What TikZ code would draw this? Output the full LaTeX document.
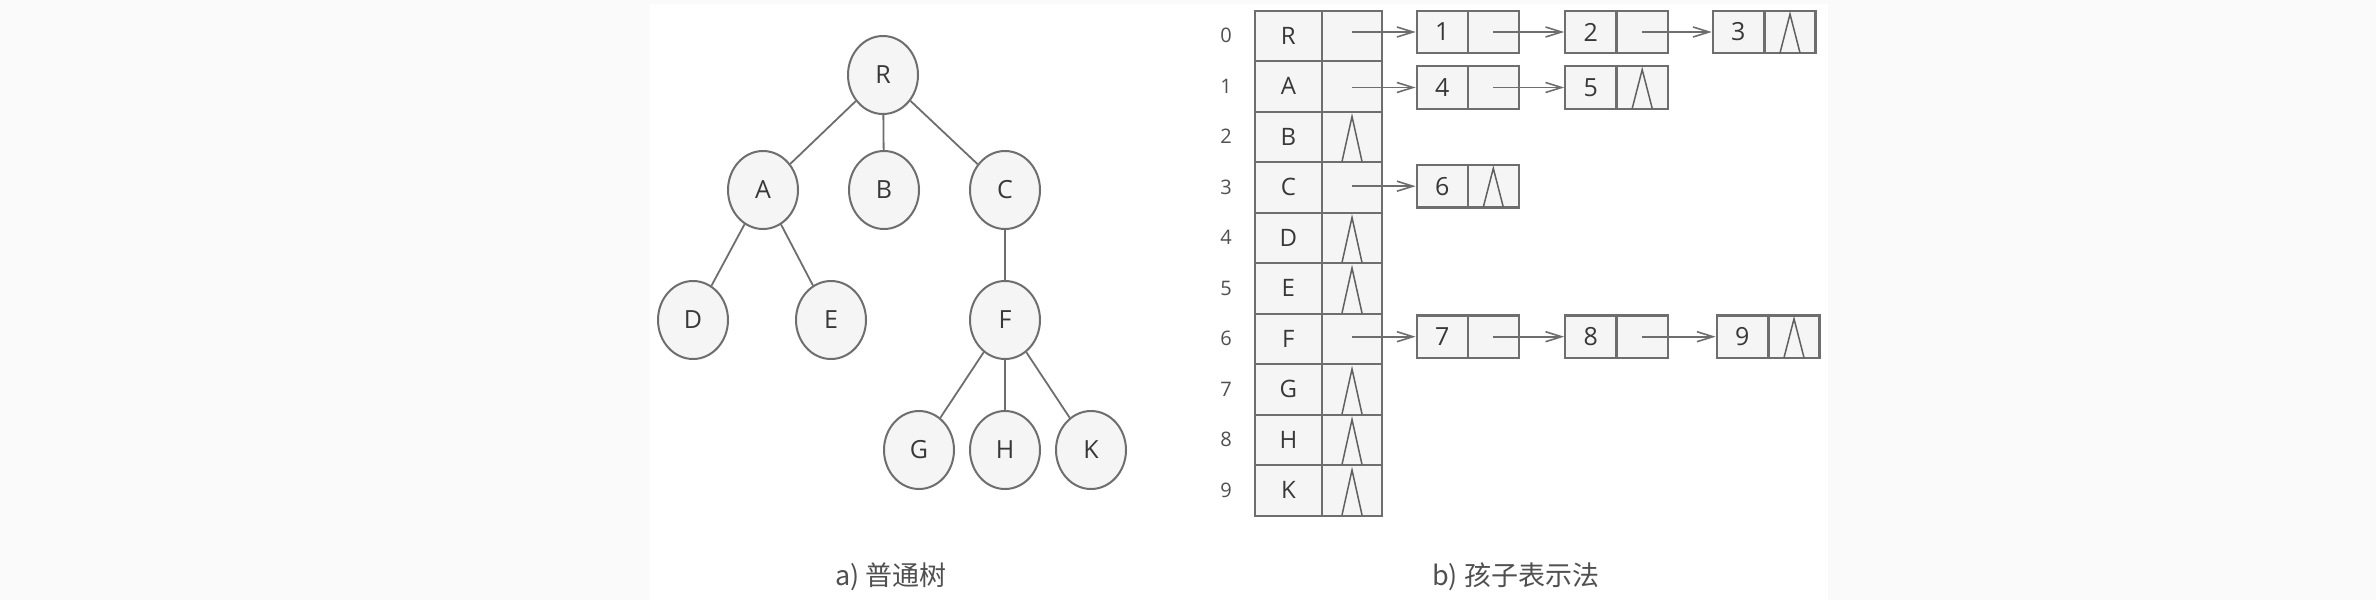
\documentclass[tikz,border=0pt]{standalone}
\usepackage{fontspec}
\setmainfont{Open Sans}
\newfontfamily\cjk{Noto Sans CJK SC}
\usetikzlibrary{shapes.geometric,arrows.meta}
\definecolor{bgout}{HTML}{FAFAFA}
\definecolor{boxfill}{HTML}{F5F5F5}
\definecolor{linec}{HTML}{6E6E6E}
\definecolor{txt}{HTML}{383838}
\definecolor{idxc}{HTML}{505050}
\begin{document}
\begin{tikzpicture}[x=1pt,y=-1pt,
  tnode/.style={ellipse,draw=linec,line width=2pt,fill=boxfill,minimum width=70pt,minimum height=78pt,inner sep=0pt,text=txt,font=\fontsize{25}{30}\selectfont},
  edge/.style={draw=linec,line width=1.8pt},
  cellD/.style={rectangle,draw=linec,line width=2pt,fill=boxfill,minimum width=66.7pt,minimum height=50.5pt,inner sep=0pt,text=txt,font=\fontsize{24}{28}\selectfont},
  cellP/.style={rectangle,draw=linec,line width=2pt,fill=boxfill,minimum width=60.6pt,minimum height=50.5pt,inner sep=0pt},
  idx/.style={inner sep=0pt,text=idxc,font=\fontsize{20}{24}\selectfont},
  ldata/.style={rectangle,draw=linec,line width=2.2pt,fill=boxfill,minimum width=51pt,minimum height=42.6pt,inner sep=0pt,text=txt,font=\fontsize{25}{30}\selectfont},
  lptr/.style={rectangle,draw=linec,line width=2.2pt,fill=boxfill,minimum width=51pt,minimum height=42.6pt,inner sep=0pt},
  nullsym/.style={draw=txt!80,line width=1.5pt,line join=miter},
  link/.style={draw=linec,line width=1.6pt,-{Straight Barb[length=16pt,width=10pt,line width=1.6pt]}},
  caption/.style={inner sep=0pt,anchor=west,text=idxc,font=\cjk\fontsize{27}{32}\selectfont}
]
\useasboundingbox (0,0) rectangle (2376,600);
\fill[bgout] (0,0) rectangle (2376,600);
\fill[white] (650,4) rectangle (1828,600);

% ---- tree ----
\node[tnode] (R) at (883,75) {R};
\node[tnode] (A) at (763,190) {A};
\node[tnode] (B) at (884,190) {B};
\node[tnode] (C) at (1005,190) {C};
\node[tnode] (D) at (693,320) {D};
\node[tnode] (E) at (831,320) {E};
\node[tnode] (F) at (1005,320) {F};
\node[tnode] (G) at (919,450) {G};
\node[tnode] (H) at (1005,450) {H};
\node[tnode] (K) at (1091,450) {K};
\draw[edge] (R) -- (A);
\draw[edge] (R) -- (B);
\draw[edge] (R) -- (C);
\draw[edge] (A) -- (D);
\draw[edge] (A) -- (E);
\draw[edge] (C) -- (F);
\draw[edge] (F) -- (G);
\draw[edge] (F) -- (H);
\draw[edge] (F) -- (K);

% ---- table ----
\foreach \i/\l in {0/R,1/A,2/B,3/C,4/D,5/E,6/F,7/G,8/H,9/K}{
  \node[cellD] (n\i) at (1288.35,{10.5+50.5*(\i+0.5)}) {\l};
  \node[cellP] (p\i) at (1352,{10.5+50.5*(\i+0.5)}) {};
  \node[idx] (i\i) at (1226,{10.5+50.5*(\i+0.5)}) {\i};
}
\foreach \i in {2,4,5,7,8,9}{
  \draw[nullsym] ([xshift=-10pt,yshift=1.5pt]p\i.south) -- ([yshift=-6pt]p\i.north) -- ([xshift=10pt,yshift=1.5pt]p\i.south);
}

% ---- linked nodes ----
\node[ldata] (d1) at (1442.2,32) {1};   \node[lptr] (q1) at (1493.3,32) {};
\node[ldata] (d2) at (1590.8,32) {2};   \node[lptr] (q2) at (1642.2,32) {};
\node[ldata] (d3) at (1738.3,32) {3};   \node[lptr] (q3) at (1790,32) {};
\node[ldata] (d4) at (1442.2,87.5) {4}; \node[lptr] (q4) at (1493.3,87.5) {};
\node[ldata] (d5) at (1590.8,87.5) {5}; \node[lptr] (q5) at (1642.2,87.5) {};
\node[ldata] (d6) at (1442.2,186.2) {6}; \node[lptr] (q6) at (1493.3,186.2) {};
\node[ldata] (d7) at (1442.2,336.7) {7}; \node[lptr] (q7) at (1493.3,336.7) {};
\node[ldata] (d8) at (1590.8,336.7) {8}; \node[lptr] (q8) at (1642.2,336.7) {};
\node[ldata] (d9) at (1742.2,336.7) {9}; \node[lptr] (q9) at (1794,336.7) {};
\foreach \q in {q3,q5,q6,q9}{
  \draw[nullsym] ([xshift=-10pt,yshift=1.5pt]\q.south) -- ([yshift=-4.5pt]\q.north) -- ([xshift=10pt,yshift=1.5pt]\q.south);
}

% ---- pointers ----
\draw[link] (p0.center |- d1.west) -- (d1.west);
\draw[link] (q1.center) -- (d2.west);
\draw[link] (q2.center) -- (d3.west);
\draw[link] (p1.center |- d4.west) -- (d4.west);
\draw[link] (q4.center) -- (d5.west);
\draw[link] (p3.center |- d6.west) -- (d6.west);
\draw[link] (p6.center |- d7.west) -- (d7.west);
\draw[link] (q7.center) -- (d8.west);
\draw[link] (q8.center) -- (d9.west);

% ---- captions ----
\node[caption] (capa) at (835,577) {a) 普通树};
\node[caption] (capb) at (1432,577) {b) 孩子表示法};
\end{tikzpicture}
\end{document}
